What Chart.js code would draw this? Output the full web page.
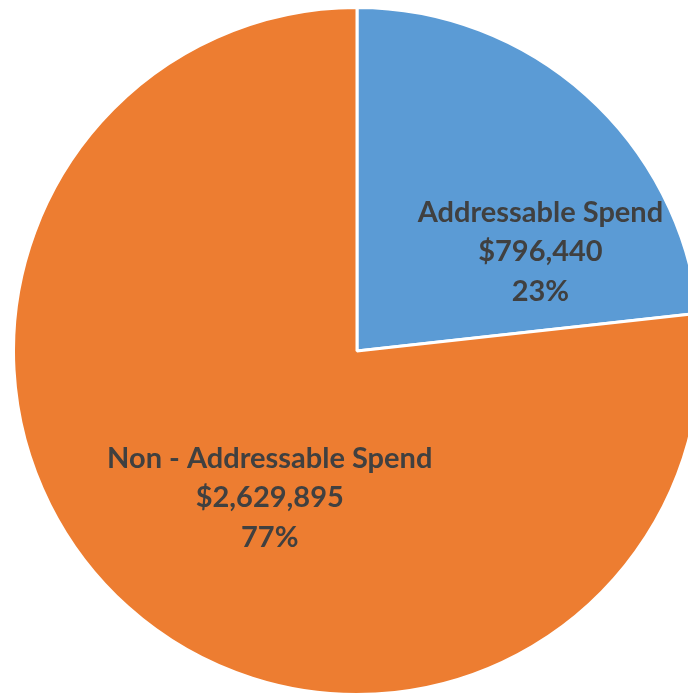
<!DOCTYPE html>
<html>
<head>
<meta charset="utf-8">
<script src="https://cdn.jsdelivr.net/npm/chart.js@4"></script>
<style>
  html, body { margin: 0; padding: 0; background: #fff; overflow: hidden; }
  #wrap { width: 688px; height: 694px; overflow: hidden; position: relative; }
  #box { position: absolute; left: 0; top: 0; width: 714px; height: 702px; }
</style>
</head>
<body>
<div id="wrap"><div id="box"><canvas id="pie"></canvas></div></div>
<script>
var labels = ["Addressable Spend", "Non - Addressable Spend"];
var spend = [796440, 2629895];
var colors = ["#5b9bd5", "#ed7d31"];

// where each label block sits, as a fraction of radius from the centre
var labelSpots = [[0.534, -0.29], [-0.254, 0.428]];

function money(v) {
    return "$" + v.toLocaleString("en-US");
}

var sliceLabels = {
    id: "sliceLabels",
    afterDatasetsDraw: function(chart) {
        var ctx = chart.ctx;
        var meta = chart.getDatasetMeta(0);
        var total = spend.reduce(function(a, b) { return a + b; }, 0);
        ctx.save();
        ctx.fillStyle = "#404040";
        ctx.textAlign = "center";
        ctx.textBaseline = "middle";
        ctx.font = "bold 29px Lato";
        for (var i = 0; i < meta.data.length; i++) {
            var arc = meta.data[i];
            var x = arc.x + labelSpots[i][0] * arc.outerRadius;
            var y = arc.y + labelSpots[i][1] * arc.outerRadius;
            var pct = Math.round(spend[i] / total * 100) + "%";
            ctx.fillText(labels[i], x, y - 39);
            ctx.fillText(money(spend[i]), x, y);
            ctx.fillText(pct, x, y + 40);
        }
        ctx.restore();
    }
};

new Chart(document.getElementById("pie"), {
    type: "pie",
    data: {
        labels: labels,
        datasets: [{
            data: spend,
            backgroundColor: colors,
            borderColor: "#ffffff",
            borderWidth: 3
        }]
    },
    options: {
        responsive: true,
        maintainAspectRatio: false,
        animation: false,
        layout: { padding: { left: 12, right: 12, top: 6, bottom: 6 } },
        plugins: {
            legend: { display: false },
            tooltip: { enabled: false }
        }
    },
    plugins: [sliceLabels]
});
</script>
</body>
</html>
